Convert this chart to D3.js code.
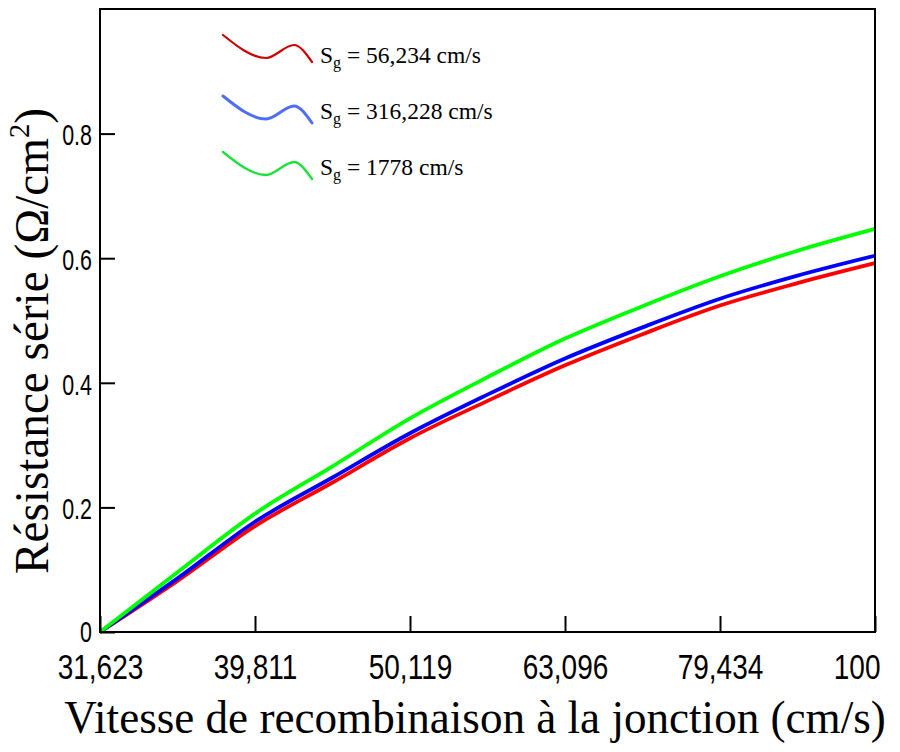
<!DOCTYPE html>
<html>
<head>
<meta charset="utf-8">
<script src="https://cdn.jsdelivr.net/npm/d3@7"></script>
<style>
  html, body { margin: 0; padding: 0; background: #fff; }
  svg { display: block; }
</style>
</head>
<body>
<svg id="chart" width="900" height="752"></svg>
<script>
// Junction recombination velocity (cm/s), log-spaced samples
const velocity = [31.623, 35.481, 39.811, 44.668, 50.119, 56.234, 63.096, 70.795, 79.433, 89.125, 100];

// Series resistance (Ω/cm²) for each grain-boundary recombination velocity Sg
const rsSg56 = [0, 0.082, 0.170, 0.240, 0.311, 0.371, 0.428, 0.478, 0.524, 0.560, 0.592];
const rsSg316 = [0, 0.086, 0.177, 0.248, 0.319, 0.381, 0.439, 0.489, 0.535, 0.572, 0.604];
const rsSg1778 = [0, 0.096, 0.190, 0.266, 0.343, 0.409, 0.471, 0.523, 0.571, 0.612, 0.647];

const seriesNames = ["56,234", "316,228", "1778"];

const xTickValues = [31.623, 39.811, 50.119, 63.096, 79.434, 100];
const xTickLabels = ["31,623", "39,811", "50,119", "63,096", "79,434", "100"];
const yTickValues = [0, 0.2, 0.4, 0.6, 0.8];
const yTickLabels = ["0", "0.2", "0.4", "0.6", "0.8"];

const svg = d3.select("#chart");

const plotLeft = 100, plotRight = 875, plotTop = 9, plotBottom = 632;

const x = d3.scaleLog().domain([31.623, 100]).range([plotLeft, plotRight]);
const y = d3.scaleLinear().domain([0, 1]).range([plotBottom, plotTop]);

const series = [
  { name: seriesNames[0], values: rsSg56, color: "#ff0000", legend: "#cc0000", lw: 2.2 },
  { name: seriesNames[1], values: rsSg316, color: "#0000ff", legend: "#4f6ef7", lw: 3 },
  { name: seriesNames[2], values: rsSg1778, color: "#00ff00", legend: "#1ee03c", lw: 2.4 }
];

// Curves
const line = d3.line()
  .x(d => x(d[0]))
  .y(d => y(d[1]))
  .curve(d3.curveMonotoneX);

svg.append("g").attr("class", "curves")
  .selectAll("path")
  .data(series)
  .join("path")
  .attr("d", s => line(velocity.map((v, i) => [v, s.values[i]])))
  .attr("fill", "none")
  .attr("stroke", s => s.color)
  .attr("stroke-width", 3.8)
  .attr("stroke-linejoin", "round");

// Frame
svg.append("rect")
  .attr("x", plotLeft).attr("y", plotTop)
  .attr("width", plotRight - plotLeft).attr("height", plotBottom - plotTop)
  .attr("fill", "none")
  .attr("stroke", "#000")
  .attr("stroke-width", 2);

// Y axis: inward ticks, labels on the left
const yAxis = d3.axisLeft(y)
  .tickValues(yTickValues)
  .tickSize(-15)
  .tickFormat((d, i) => yTickLabels[i]);

const gy = svg.append("g")
  .attr("transform", `translate(${plotLeft},0)`)
  .call(yAxis);
gy.select(".domain").remove();
gy.selectAll(".tick line").attr("stroke", "#000").attr("stroke-width", 2);
gy.selectAll(".tick text")
  .attr("x", 0).attr("dy", null)
  .attr("fill", "#000")
  .attr("font-family", "'Liberation Sans', Arial, sans-serif")
  .attr("font-size", 29)
  .attr("text-anchor", "end")
  .attr("dominant-baseline", "central")
  .attr("transform", "translate(-8,1) scale(0.74,1)");
// the zero label sits a little higher, clear of the first x label
gy.selectAll(".tick").filter(d => d === 0)
  .select("text").attr("transform", "translate(-8,-1) scale(0.74,1)");

// X axis: inward ticks, labels below
const xAxis = d3.axisBottom(x)
  .tickValues(xTickValues)
  .tickSize(-16)
  .tickFormat((d, i) => xTickLabels[i]);

const gx = svg.append("g")
  .attr("transform", `translate(0,${plotBottom})`)
  .call(xAxis);
gx.select(".domain").remove();
gx.selectAll(".tick line").attr("stroke", "#000").attr("stroke-width", 2);
gx.selectAll(".tick text")
  .attr("y", 0).attr("dy", null)
  .attr("fill", "#000")
  .attr("font-family", "'Liberation Sans', Arial, sans-serif")
  .attr("font-size", 35)
  .attr("text-anchor", "middle")
  .attr("transform", "translate(0,47) scale(0.8,1)");
// keep the last label inside the canvas
gx.selectAll(".tick").filter((d, i) => i === xTickValues.length - 1)
  .select("text").attr("text-anchor", "end").attr("transform", "translate(5,47) scale(0.8,1)");

// Axis titles: condensed serif, squeezed horizontally to a set width
function condensed(sel, width) {
  const natural = sel.node().getComputedTextLength();
  return natural > 0 ? Math.min(1, width / natural) : 1;
}

const xTitle = svg.append("text")
  .attr("x", 0).attr("y", 0)
  .attr("text-anchor", "middle")
  .attr("font-family", "'Liberation Serif', 'Times New Roman', serif")
  .attr("font-size", 46)
  .text("Vitesse de recombinaison à la jonction (cm/s)");
xTitle.attr("transform", `translate(475,733) scale(${condensed(xTitle, 822)},1)`);

const yTitle = svg.append("text")
  .attr("x", 0).attr("y", 0)
  .attr("text-anchor", "middle")
  .attr("font-family", "'Liberation Serif', 'Times New Roman', serif")
  .attr("font-size", 48);
yTitle.append("tspan").text("Résistance série (Ω/cm");
yTitle.append("tspan").attr("font-size", 29).attr("dy", -19).text("2");
yTitle.append("tspan").attr("dy", 19).text(")");
yTitle.attr("transform", `translate(48,341) rotate(-90) scale(${condensed(yTitle, 466)},1)`);

// Legend: a small wave glyph followed by the Sg label
const legendWave = [[0, 0], [43, 23], [71, 10], [89, 27]];
const waveLine = d3.line().curve(d3.curveMonotoneX);
const legend = svg.append("g").attr("class", "legend");
const legendWaveTop = [35, 96, 152];
const legendBaseline = [63, 119, 175];

series.forEach((s, i) => {
  legend.append("path")
    .attr("transform", `translate(223,${legendWaveTop[i]})`)
    .attr("d", waveLine(legendWave))
    .attr("fill", "none")
    .attr("stroke", s.legend)
    .attr("stroke-width", s.lw)
    .attr("stroke-linecap", "round");
  const t = legend.append("text")
    .attr("x", 320).attr("y", legendBaseline[i])
    .attr("font-family", "'Liberation Serif', 'DejaVu Serif', serif")
    .attr("font-size", 23.5)
    .attr("fill", "#000");
  t.append("tspan").text("S");
  t.append("tspan").attr("font-size", 16).attr("dy", 5).text("g");
  t.append("tspan").attr("dy", -5).text(` = ${s.name} cm/s`);
});
</script>
</body>
</html>
